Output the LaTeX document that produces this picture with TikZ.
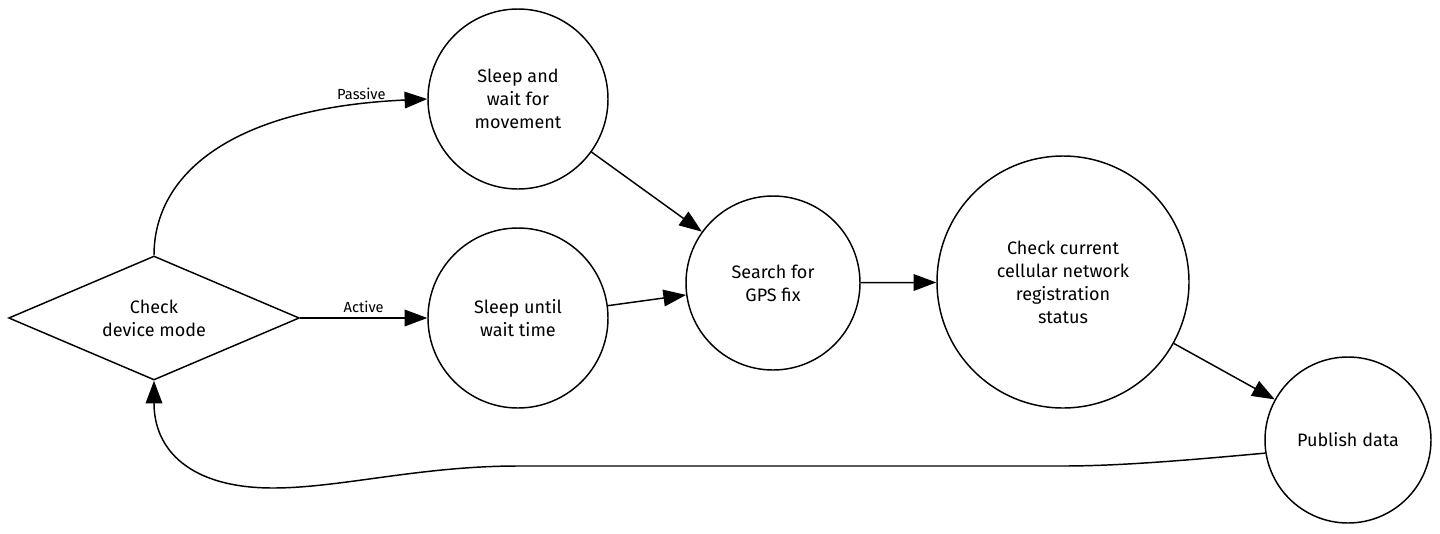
\documentclass[tikz,border=0pt]{standalone}
\usepackage{fontspec}
\setmainfont{Fira Sans}
\usetikzlibrary{shapes.geometric,arrows.meta}

\begin{document}
\begin{tikzpicture}[x=0.75pt,y=-0.75pt,
  state/.style={draw,circle,line width=1.1pt,inner sep=0pt,align=center,font=\fontsize{13.5}{17.25}\selectfont},
  choice/.style={draw,diamond,aspect=2.35,line width=1.1pt,inner sep=0pt,align=center,font=\fontsize{13.5}{17.25}\selectfont},
  arr/.style={line width=1.1pt,-{Triangle[length=17pt,width=12.5pt]}},
  lbl/.style={font=\fontsize{11}{13}\selectfont}]
  \useasboundingbox (0,0) rectangle (1440,533);
  \node[choice,minimum width=218pt,minimum height=93pt] (mode) at (154,318) {Check\\device mode};
  \node[state,minimum size=135pt] (move) at (518,99) {Sleep and\\wait for\\movement};
  \node[state,minimum size=135pt] (wait) at (518,318) {Sleep until\\wait time};
  \node[state,minimum size=130.5pt] (gps) at (773,283) {Search for\\GPS fix};
  \node[state,minimum size=189pt] (cell) at (1063,282) {Check current\\cellular network\\registration\\status};
  \node[state,minimum size=124.5pt] (pub) at (1348,440) {Publish data};
  \draw[arr] (mode.north) .. controls (154,175) and (230,108) .. (move.west) node[lbl,pos=0.88,above] {Passive};
  \draw[arr] (mode.east) -- (wait.west) node[lbl,midway,above] {Active};
  \draw[arr] (move) -- (gps);
  \draw[arr] (wait) -- (gps);
  \draw[arr] (gps) -- (cell);
  \draw[arr] (cell) -- (pub);
  \draw[arr] (pub.189) .. controls (1190,460) and (1120,466) .. (1063,466) -- (518,466)
    .. controls (420,466) and (340,488) .. (273,488) .. controls (190,488) and (154,450) .. (mode.south);
\end{tikzpicture}
\end{document}
